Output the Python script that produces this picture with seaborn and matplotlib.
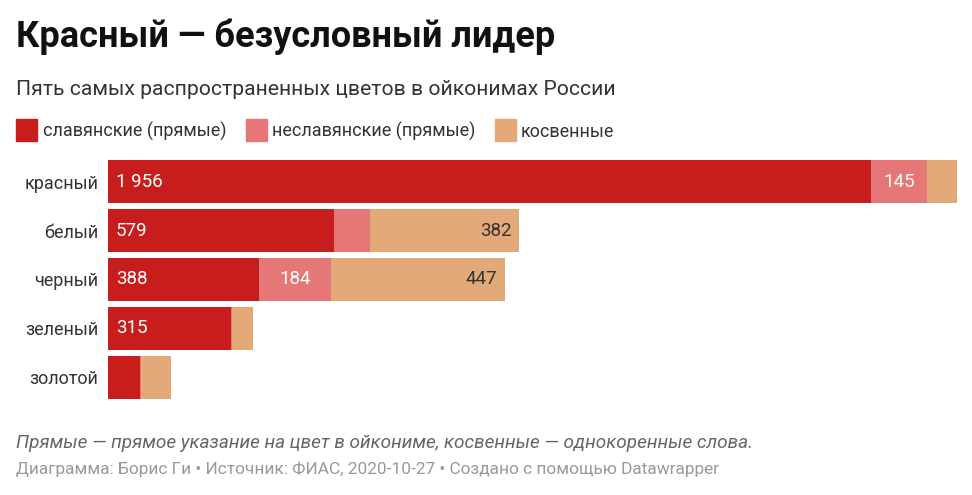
import matplotlib
matplotlib.use("Agg")
import matplotlib.pyplot as plt
import pandas as pd
import seaborn as sns
from matplotlib.patches import Rectangle

# data
colors_ru = ["красный", "белый", "черный", "зеленый", "золотой"]
slavic = [1956, 579, 388, 315, 81]
non_slavic = [145, 94, 184, 4, 4]
indirect = [76, 382, 447, 54, 77]

series_names = ["славянские (прямые)", "неславянские (прямые)", "косвенные"]
palette = ["#c71e1d", "#e57777", "#e4a978"]

df = pd.DataFrame({"name": colors_ru, "slavic": slavic,
                   "non_slavic": non_slavic, "indirect": indirect})
df["cum1"] = df["slavic"]
df["cum2"] = df["slavic"] + df["non_slavic"]
df["cum3"] = df["cum2"] + df["indirect"]

sns.set_theme(style="white")
plt.rcParams["font.family"] = ["Roboto", "DejaVu Sans"]

W, H = 972, 495
fig = plt.figure(figsize=(W / 100, H / 100), dpi=100)


def fx(px):
    return px / W


def fy(py):
    return 1 - py / H


ax = fig.add_axes([fx(108), fy(401.5), fx(957) - fx(108), (401.5 - 157.5) / H])

# stacked bars: draw cumulative totals from widest to narrowest
for col, c in zip(["cum3", "cum2", "cum1"], palette[::-1]):
    sns.barplot(data=df, x=col, y="name", color=c, orient="h",
                width=0.88, saturation=1, linewidth=0, ax=ax)

ax.set_xlim(0, df["cum3"].max())
ax.set_ylim(4.5, -0.5)
ax.set_xlabel("")
ax.set_ylabel("")
ax.set_xticks([])
ax.tick_params(axis="y", length=0, pad=7, labelsize=13, labelcolor="#333333")
for s in ax.spines.values():
    s.set_visible(False)

units_per_px = df["cum3"].max() / (957 - 108)
pad = 8 * units_per_px


def fmt(v):
    return f"{v:,}".replace(",", " ")


for i, row in df.iterrows():
    if row["slavic"] >= 100:
        ax.text(pad, i, fmt(row["slavic"]), color="white", va="center",
                ha="left", fontsize=13.5)
    if row["non_slavic"] >= 100:
        ax.text(row["cum1"] + row["non_slavic"] / 2, i, fmt(row["non_slavic"]),
                color="white", va="center", ha="center", fontsize=13.5)
    if row["indirect"] >= 100:
        ax.text(row["cum3"] - pad, i, fmt(row["indirect"]), color="#333333",
                va="center", ha="right", fontsize=13.5)

# header
fig.text(fx(16), fy(47), "Красный — безусловный лидер", fontsize=26,
         fontweight="bold", color="#111111", va="baseline")
fig.text(fx(16), fy(95), "Пять самых распространенных цветов в ойконимах России",
         fontsize=15.2, color="#333333", va="baseline")

# legend
legend_x = [(16, 43), (246, 272), (495, 521)]
for (bx, tx), name, c in zip(legend_x, series_names, palette):
    fig.patches.append(Rectangle((fx(bx), fy(141)), fx(21), 22 / H,
                                 transform=fig.transFigure, color=c))
    fig.text(fx(tx), fy(137), name, fontsize=13, color="#333333",
             va="baseline")

# footer
fig.text(fx(16), fy(448),
         "Прямые — прямое указание на цвет в ойкониме, косвенные — однокоренные слова.",
         fontsize=13.7, style="italic", color="#666666", va="baseline")
fig.text(fx(16), fy(474),
         "Диаграмма: Борис Ги • Источник: ФИАС, 2020-10-27 • Создано с помощью Datawrapper",
         fontsize=12.4, color="#999999", va="baseline")

fig.savefig("out.png", dpi=100)
